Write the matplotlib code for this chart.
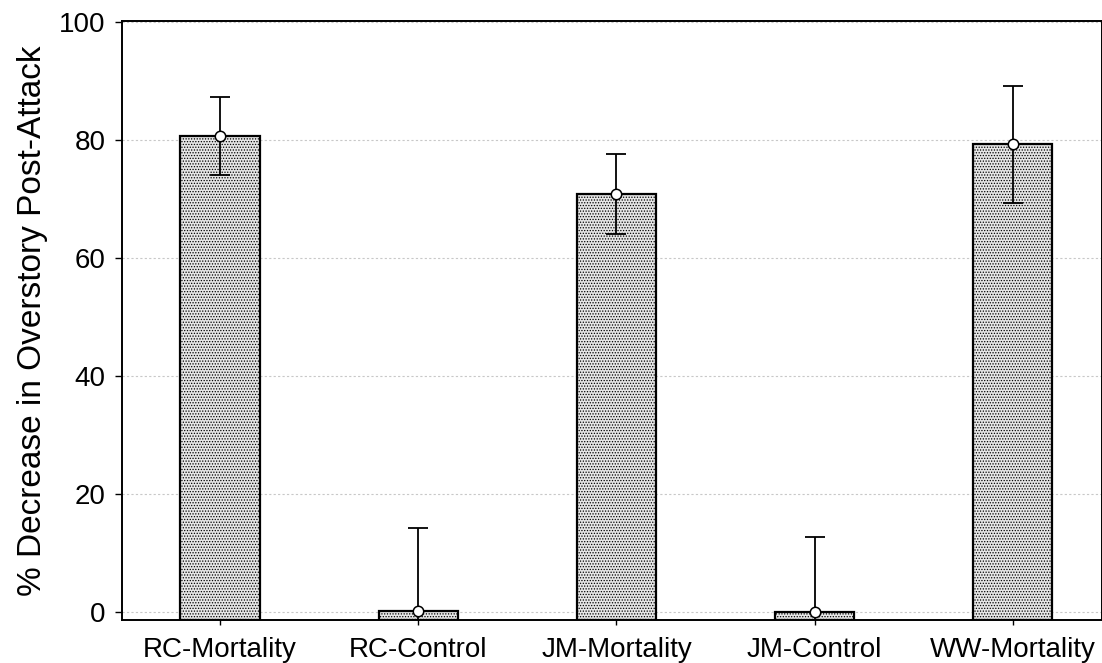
import matplotlib.pyplot as plt

plt.rcParams["font.family"] = ["Liberation Sans", "DejaVu Sans"]
plt.rcParams["hatch.color"] = "#8a8a8a"
plt.rcParams["hatch.linewidth"] = 0.6

# group means and upper/lower limits (±SE)
groups = ["RC-Mortality", "RC-Control", "JM-Mortality", "JM-Control", "WW-Mortality"]
means = [80.6, 0.3, 70.8, 0.05, 79.3]
errors = [6.6, 14.0, 6.8, 12.8, 9.9]
yticks = [0, 20, 40, 60, 80, 100]

fig = plt.figure(figsize=(11.02, 6.63), dpi=100)
ax = fig.add_axes([0.1107, 0.065, 0.8893, 0.9035])

ymin = -1.27
x = range(len(groups))
heights = [m - ymin for m in means]
ax.bar(x, heights, bottom=ymin, width=0.4, color="#e6e6e6", edgecolor="black",
       linewidth=1.6, hatch="......", zorder=2)
ax.errorbar(x, means, yerr=errors, fmt="none", ecolor="black", elinewidth=1.3,
            capsize=7, capthick=1.3, zorder=3)
ax.plot(x, means, "o", markersize=7.5, markerfacecolor="white",
        markeredgecolor="black", markeredgewidth=1.1, zorder=4)

ax.set_xlim(-0.495, 4.45)
ax.set_ylim(ymin, 100.17)
ax.set_yticks(yticks)
ax.set_xticks(list(x))
ax.set_xticklabels(groups)
ax.yaxis.grid(True, linestyle=(0, (2, 2)), color="#c8c8c8", linewidth=0.8, zorder=0)
ax.set_axisbelow(True)

ax.tick_params(axis="y", direction="out", length=5, width=1, labelsize=20, pad=7)
ax.tick_params(axis="x", direction="inout", length=7, width=1, labelsize=20, pad=9)
for s in ax.spines.values():
    s.set_linewidth(1.4)

ax.set_ylabel("% Decrease in Overstory Post-Attack", fontsize=24, labelpad=8)

fig.savefig("out.png", dpi=100)
